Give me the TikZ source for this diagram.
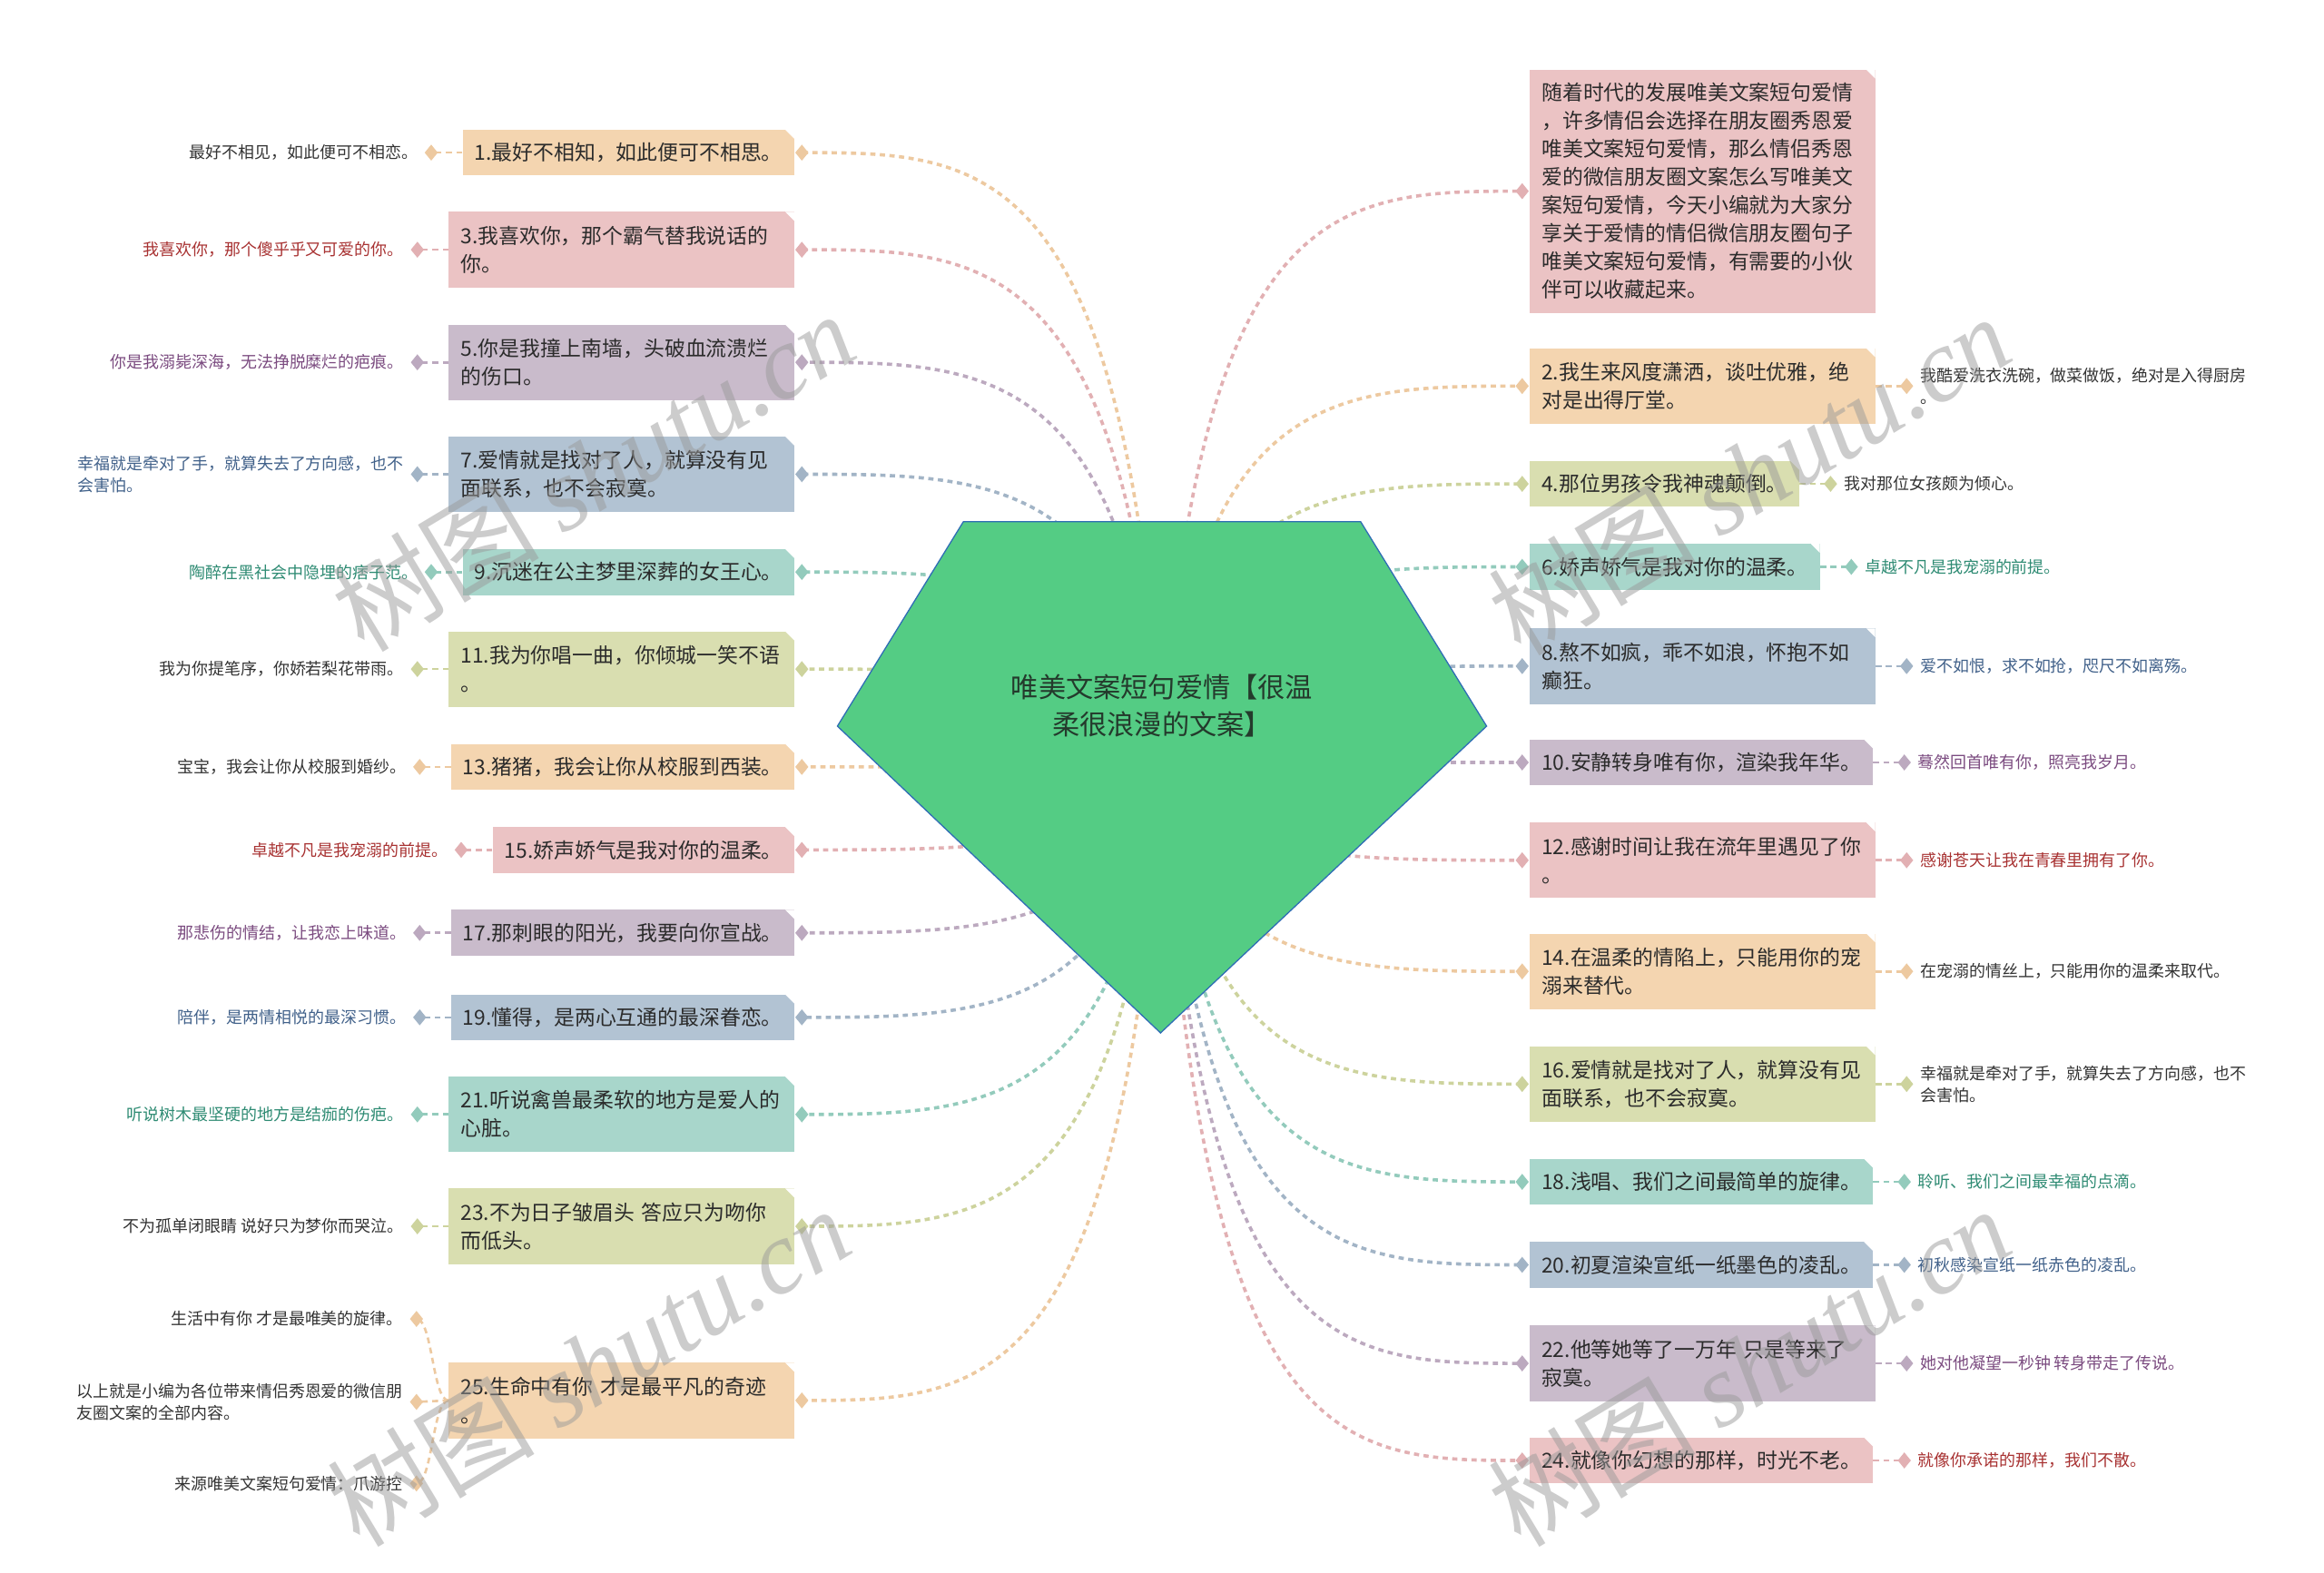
\documentclass[tikz,border=0pt]{standalone}
\usepackage{fontspec}
\setmainfont{Noto Sans CJK SC}
\newfontfamily\wmserif{Liberation Serif}
\usetikzlibrary{shapes.geometric,calc}
\definecolor{peachF}{HTML}{F4D5B0}\definecolor{peachL}{HTML}{EDC9A0}
\definecolor{pinkF}{HTML}{EBC3C4}\definecolor{pinkL}{HTML}{E2B0B3}
\definecolor{purpF}{HTML}{C9BBCB}\definecolor{purpL}{HTML}{BCA9BF}
\definecolor{blueF}{HTML}{B2C3D3}\definecolor{blueL}{HTML}{A2B4C6}
\definecolor{tealF}{HTML}{A8D6CB}\definecolor{tealL}{HTML}{93CBBC}
\definecolor{oliveF}{HTML}{D9DEB0}\definecolor{oliveL}{HTML}{CDD39D}
\definecolor{tdark}{HTML}{333333}\definecolor{tred}{HTML}{A83232}
\definecolor{tpurp}{HTML}{7B4B80}\definecolor{tblue}{HTML}{41618A}
\definecolor{tteal}{HTML}{2E8B73}\definecolor{boxtxt}{HTML}{2B2B2B}
\definecolor{rootF}{HTML}{54CC84}\definecolor{rootD}{HTML}{2F6DB5}
\definecolor{roottxt}{HTML}{243A2C}\definecolor{wmgray}{HTML}{9A9A9A}
\newcommand\rootconn[2]{\draw[conn=#1] let \p1=(rc), \p2=(#2) in (\p1) .. controls ({\x1+0.1*(\x2-\x1)},\y2) and ({\x1+0.5*(\x2-\x1)},\y2) .. (\p2);}
\newcommand\leafconn[3]{\draw[lconn=#1] let \p1=(#2), \p2=(#3) in (\p1) .. controls ({0.5*(\x1+\x2)},\y1) and ({0.5*(\x1+\x2)},\y2) .. (\p2);}
\tikzset{
  box/.style={rectangle, fill=#1, inner xsep=8pt, inner ysep=0pt, align=left,
    font=\fontsize{14}{19}\selectfont, text=boxtxt,
    path picture={\fill[white] ([xshift=-6pt]path picture bounding box.north east) -- (path picture bounding box.north east) -- ([yshift=-6pt]path picture bounding box.north east) -- cycle;}},
  oneline/.style={minimum height=31pt},
  twoline/.style={minimum height=51pt, text width=217pt},
  conn/.style={draw=#1, line width=2.2pt, dash pattern=on 3.5pt off 3pt},
  lconn/.style={draw=#1, line width=1.6pt, dash pattern=on 4pt off 3pt},
  dia/.style={diamond, fill=#1, minimum width=9pt, minimum height=11pt, inner sep=0pt},
  leaf/.style={font=\fontsize{11}{14.5}\selectfont, inner sep=0pt, align=left, text=#1},
  wm/.style={font=\fontsize{70}{70}\selectfont, text=wmgray, opacity=0.5, rotate=31, inner sep=0pt},
}
\begin{document}
\begin{tikzpicture}[x=1pt,y=-1pt]
\fill[white] (0,0) rectangle (1568,1061);
\useasboundingbox (0,0) rectangle (1568,1061);
\coordinate (rc) at (784,510);
% ---------- left boxes ----------
\node[box=peachF, oneline, anchor=east] (n1) at (536,103) {1.最好不相知，如此便可不相思。};
\node[box=pinkF, twoline, anchor=east] (n3) at (536,168.5) {3.我喜欢你，那个霸气替我说话的\\你。};
\node[box=purpF, twoline, anchor=east] (n5) at (536,244.5) {5.你是我撞上南墙，头破血流溃烂\\的伤口。};
\node[box=blueF, twoline, anchor=east] (n7) at (536,320) {7.爱情就是找对了人，就算没有见\\面联系，也不会寂寞。};
\node[box=tealF, oneline, anchor=east] (n9) at (536,386) {9.沉迷在公主梦里深葬的女王心。};
\node[box=oliveF, twoline, anchor=east] (n11) at (536,451.5) {11.我为你唱一曲，你倾城一笑不语\\。};
\node[box=peachF, oneline, anchor=east] (n13) at (536,517.5) {13.猪猪，我会让你从校服到西装。};
\node[box=pinkF, oneline, anchor=east] (n15) at (536,573.5) {15.娇声娇气是我对你的温柔。};
\node[box=purpF, oneline, anchor=east] (n17) at (536,629.5) {17.那刺眼的阳光，我要向你宣战。};
\node[box=blueF, oneline, anchor=east] (n19) at (536,686.5) {19.懂得，是两心互通的最深眷恋。};
\node[box=tealF, twoline, anchor=east] (n21) at (536,752) {21.听说禽兽最柔软的地方是爱人的\\心脏。};
\node[box=oliveF, twoline, anchor=east] (n23) at (536,827.5) {23.不为日子皱眉头 答应只为吻你\\而低头。};
\node[box=peachF, twoline, anchor=east] (n25) at (536,945) {25.生命中有你 才是最平凡的奇迹\\。};
% ---------- right boxes ----------
\node[box=pinkF, minimum height=164pt, text width=217pt, anchor=west] (n0) at (1032,129) {随着时代的发展唯美文案短句爱情\\，许多情侣会选择在朋友圈秀恩爱\\唯美文案短句爱情，那么情侣秀恩\\爱的微信朋友圈文案怎么写唯美文\\案短句爱情，今天小编就为大家分\\享关于爱情的情侣微信朋友圈句子\\唯美文案短句爱情，有需要的小伙\\伴可以收藏起来。};
\node[box=peachF, twoline, anchor=west] (n2) at (1032,260.5) {2.我生来风度潇洒，谈吐优雅，绝\\对是出得厅堂。};
\node[box=oliveF, oneline, anchor=west] (n4) at (1032,326.5) {4.那位男孩令我神魂颠倒。};
\node[box=tealF, oneline, anchor=west] (n6) at (1032,382.5) {6.娇声娇气是我对你的温柔。};
\node[box=blueF, twoline, anchor=west] (n8) at (1032,449.5) {8.熬不如疯，乖不如浪，怀抱不如\\癫狂。};
\node[box=purpF, oneline, anchor=west] (n10) at (1032,514.5) {10.安静转身唯有你，渲染我年华。};
\node[box=pinkF, twoline, anchor=west] (n12) at (1032,580.5) {12.感谢时间让我在流年里遇见了你\\。};
\node[box=peachF, twoline, anchor=west] (n14) at (1032,655.5) {14.在温柔的情陷上，只能用你的宠\\溺来替代。};
\node[box=oliveF, twoline, anchor=west] (n16) at (1032,731.5) {16.爱情就是找对了人，就算没有见\\面联系，也不会寂寞。};
\node[box=tealF, oneline, anchor=west] (n18) at (1032,797.5) {18.浅唱、我们之间最简单的旋律。};
\node[box=blueF, oneline, anchor=west] (n20) at (1032,853.5) {20.初夏渲染宣纸一纸墨色的凌乱。};
\node[box=purpF, twoline, anchor=west] (n22) at (1032,920) {22.他等她等了一万年 只是等来了\\寂寞。};
\node[box=pinkF, oneline, anchor=west] (n24) at (1032,985.5) {24.就像你幻想的那样，时光不老。};
% ---------- root-side diamonds ----------
\foreach \k/\c in {1/peachL,3/pinkL,5/purpL,7/blueL,9/tealL,11/oliveL,13/peachL,15/pinkL,17/purpL,19/blueL,21/tealL,23/oliveL,25/peachL}
  {\node[dia=\c] (d\k) at ([xshift=5pt]n\k.east) {};}
\foreach \k/\c in {0/pinkL,2/peachL,4/oliveL,6/tealL,8/blueL,10/purpL,12/pinkL,14/peachL,16/oliveL,18/tealL,20/blueL,22/purpL,24/pinkL}
  {\node[dia=\c] (d\k) at ([xshift=-5pt]n\k.west) {};}
% ---------- root connectors ----------
\rootconn{peachL}{d1}\rootconn{pinkL}{d3}\rootconn{purpL}{d5}\rootconn{blueL}{d7}
\rootconn{tealL}{d9}\rootconn{oliveL}{d11}\rootconn{peachL}{d13}\rootconn{pinkL}{d15}
\rootconn{purpL}{d17}\rootconn{blueL}{d19}\rootconn{tealL}{d21}\rootconn{oliveL}{d23}
\rootconn{peachL}{d25}
\rootconn{pinkL}{d0}\rootconn{peachL}{d2}\rootconn{oliveL}{d4}\rootconn{tealL}{d6}
\rootconn{blueL}{d8}\rootconn{purpL}{d10}\rootconn{pinkL}{d12}\rootconn{peachL}{d14}
\rootconn{oliveL}{d16}\rootconn{tealL}{d18}\rootconn{blueL}{d20}\rootconn{purpL}{d22}
\rootconn{pinkL}{d24}
% ---------- root ----------
\fill[rootF, draw=rootD, line width=0.8pt] (650,352) -- (918,352) -- (1003,490) -- (783,697) -- (565,490) -- cycle;
\node[font=\fontsize{18.5}{25}\selectfont, text=roottxt, align=center, inner sep=0pt] (root) at (784,476) {唯美文案短句爱情【很温\\柔很浪漫的文案】};
% ---------- left leaves ----------
\foreach \k/\c in {1/peachL,3/pinkL,5/purpL,7/blueL,9/tealL,11/oliveL,13/peachL,15/pinkL,17/purpL,19/blueL,21/tealL,23/oliveL}
  {\node[dia=\c] (e\k) at ([xshift=-21pt]n\k.west) {};
   \leafconn{\c}{n\k.west}{e\k.center}}
\node[dia=peachL] (e25a) at (281,890) {};
\node[dia=peachL] (e25b) at (281,946) {};
\node[dia=peachL] (e25c) at (281,1001) {};
\leafconn{peachL}{n25.west}{e25a.center}
\leafconn{peachL}{n25.west}{e25b.center}
\leafconn{peachL}{n25.west}{e25c.center}
\node[leaf=tdark, anchor=east] (l1) at ([xshift=-9pt]e1.center) {最好不相见，如此便可不相恋。};
\node[leaf=tred, anchor=east] (l3) at ([xshift=-9pt]e3.center) {我喜欢你，那个傻乎乎又可爱的你。};
\node[leaf=tpurp, anchor=east] (l5) at ([xshift=-9pt]e5.center) {你是我溺毙深海，无法挣脱糜烂的疤痕。};
\node[leaf=tblue, anchor=east] (l7) at ([xshift=-9pt]e7.center) {幸福就是牵对了手，就算失去了方向感，也不\\会害怕。};
\node[leaf=tteal, anchor=east] (l9) at ([xshift=-9pt]e9.center) {陶醉在黑社会中隐埋的痞子范。};
\node[leaf=tdark, anchor=east] (l11) at ([xshift=-9pt]e11.center) {我为你提笔序，你娇若梨花带雨。};
\node[leaf=tdark, anchor=east] (l13) at ([xshift=-9pt]e13.center) {宝宝，我会让你从校服到婚纱。};
\node[leaf=tred, anchor=east] (l15) at ([xshift=-9pt]e15.center) {卓越不凡是我宠溺的前提。};
\node[leaf=tpurp, anchor=east] (l17) at ([xshift=-9pt]e17.center) {那悲伤的情结，让我恋上味道。};
\node[leaf=tblue, anchor=east] (l19) at ([xshift=-9pt]e19.center) {陪伴，是两情相悦的最深习惯。};
\node[leaf=tteal, anchor=east] (l21) at ([xshift=-9pt]e21.center) {听说树木最坚硬的地方是结痂的伤疤。};
\node[leaf=tdark, anchor=east] (l23) at ([xshift=-9pt]e23.center) {不为孤单闭眼睛 说好只为梦你而哭泣。};
\node[leaf=tdark, anchor=east] (l25a) at ([xshift=-9pt]e25a.center) {生活中有你 才是最唯美的旋律。};
\node[leaf=tdark, anchor=east] (l25b) at ([xshift=-9pt]e25b.center) {以上就是小编为各位带来情侣秀恩爱的微信朋\\友圈文案的全部内容。};
\node[leaf=tdark, anchor=east] (l25c) at ([xshift=-9pt]e25c.center) {来源唯美文案短句爱情：爪游控};
% ---------- right leaves ----------
\foreach \k/\c in {2/peachL,4/oliveL,6/tealL,8/blueL,10/purpL,12/pinkL,14/peachL,16/oliveL,18/tealL,20/blueL,22/purpL,24/pinkL}
  {\node[dia=\c] (e\k) at ([xshift=21pt]n\k.east) {};
   \leafconn{\c}{n\k.east}{e\k.center}}
\node[leaf=tdark, anchor=west] (l2) at ([xshift=9pt]e2.center) {我酷爱洗衣洗碗，做菜做饭，绝对是入得厨房\\。};
\node[leaf=tdark, anchor=west] (l4) at ([xshift=9pt]e4.center) {我对那位女孩颇为倾心。};
\node[leaf=tteal, anchor=west] (l6) at ([xshift=9pt]e6.center) {卓越不凡是我宠溺的前提。};
\node[leaf=tblue, anchor=west] (l8) at ([xshift=9pt]e8.center) {爱不如恨，求不如抢，咫尺不如离殇。};
\node[leaf=tpurp, anchor=west] (l10) at ([xshift=9pt]e10.center) {蓦然回首唯有你，照亮我岁月。};
\node[leaf=tred, anchor=west] (l12) at ([xshift=9pt]e12.center) {感谢苍天让我在青春里拥有了你。};
\node[leaf=tdark, anchor=west] (l14) at ([xshift=9pt]e14.center) {在宠溺的情丝上，只能用你的温柔来取代。};
\node[leaf=tdark, anchor=west] (l16) at ([xshift=9pt]e16.center) {幸福就是牵对了手，就算失去了方向感，也不\\会害怕。};
\node[leaf=tteal, anchor=west] (l18) at ([xshift=9pt]e18.center) {聆听、我们之间最幸福的点滴。};
\node[leaf=tblue, anchor=west] (l20) at ([xshift=9pt]e20.center) {初秋感染宣纸一纸赤色的凌乱。};
\node[leaf=tpurp, anchor=west] (l22) at ([xshift=9pt]e22.center) {她对他凝望一秒钟 转身带走了传说。};
\node[leaf=tred, anchor=west] (l24) at ([xshift=9pt]e24.center) {就像你承诺的那样，我们不散。};
% ---------- watermarks ----------
\node[wm] (wm1) at (400,318) {树图 {\wmserif\itshape shutu.cn}};
\node[wm] (wm2) at (1180,320) {树图 {\wmserif\itshape shutu.cn}};
\node[wm] (wm3) at (397,922) {树图 {\wmserif\itshape shutu.cn}};
\node[wm] (wm4) at (1180,922) {树图 {\wmserif\itshape shutu.cn}};
\end{tikzpicture}
\end{document}
